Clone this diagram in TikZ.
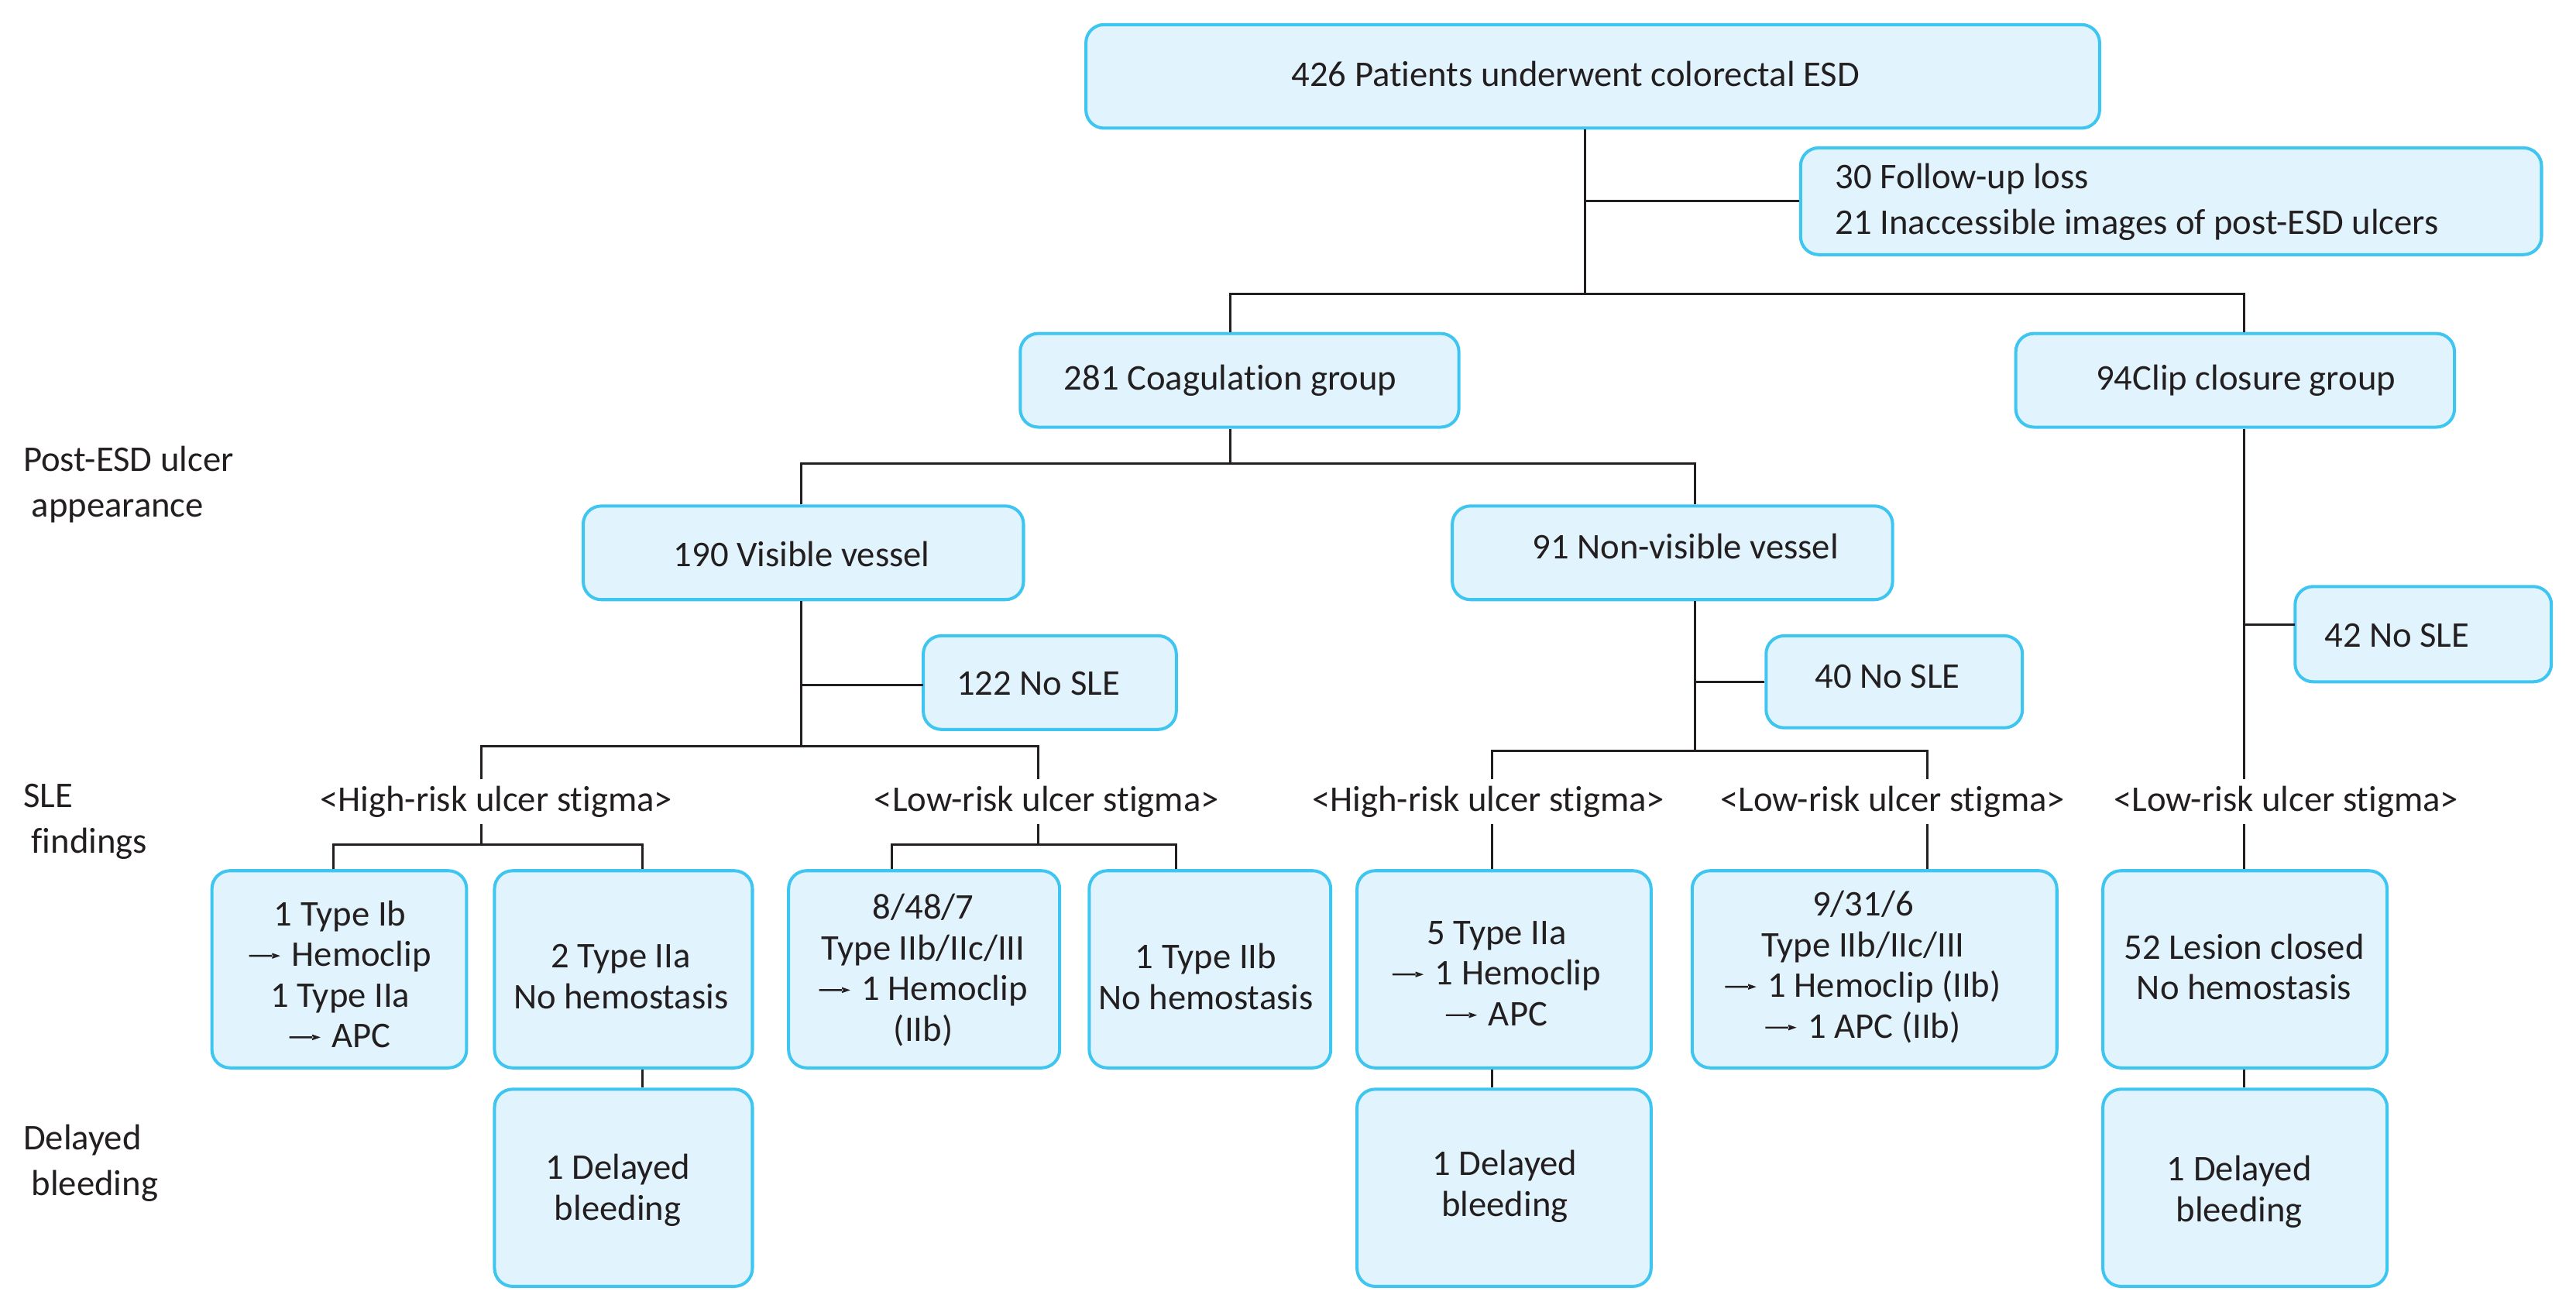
\documentclass[tikz,border=0pt]{standalone}
\usepackage{fontspec}
\setmainfont{Carlito}[Ligatures={NoCommon,TeX}]
\definecolor{boxfill}{HTML}{E1F3FC}
\definecolor{boxline}{HTML}{3FC6F0}
\definecolor{ink}{HTML}{231F20}
\newcommand\rarr{\tikz[x=1pt,y=1pt,baseline=0pt]{\fill[ink] (0,5.8) rectangle (14.5,6.9) (14,4.6) -- (19,6.35) -- (14,8.1) -- cycle;}\hspace{7pt}}
\tikzset{
  box/.style={draw=boxline, fill=boxfill, line width=1.9pt, rounded corners=11pt, inner sep=0pt},
  txt/.style={align=center, inner sep=0pt, text=ink, font=\fontsize{22}{24.8}\selectfont},
  sidetxt/.style={align=left, inner sep=0pt, text=ink, font=\fontsize{22}{27.8}\selectfont},
  lab/.style={align=left, inner sep=0pt, text=ink, font=\fontsize{22}{28}\selectfont, anchor=west},
  stig/.style={inner sep=0pt, minimum height=27pt, text=ink, font=\fontsize{22}{24.8}\selectfont},
  conn/.style={draw=ink, line width=1.4pt}
}
\begin{document}
\begin{tikzpicture}[x=1pt, y=-1pt]
\useasboundingbox (0,0) rectangle (1568,798.6);

% ---------- boxes ----------
\node[box, minimum width=617pt, minimum height=63pt] (top) at (969.5,46.5) {};
\node[box, minimum width=451pt, minimum height=65pt] (side) at (1321.5,122.5) {};
\node[box, minimum width=267pt, minimum height=57pt] (coag) at (754.5,231.5) {};
\node[box, minimum width=267pt, minimum height=57pt] (clip) at (1360.5,231.5) {};
\node[box, minimum width=268pt, minimum height=57pt] (vis) at (489,336.5) {};
\node[box, minimum width=268pt, minimum height=57pt] (nonvis) at (1018,336.5) {};
\node[box, minimum width=154pt, minimum height=57pt] (n122) at (639,415.5) {};
\node[box, minimum width=156pt, minimum height=56pt] (n40) at (1153,415) {};
\node[box, minimum width=156pt, minimum height=58pt] (n42) at (1475,386) {};
\node[box, minimum width=155pt, minimum height=120pt] (b1) at (206.5,590) {};
\node[box, minimum width=157pt, minimum height=120pt] (b2) at (379.5,590) {};
\node[box, minimum width=165pt, minimum height=120pt] (b3) at (562.5,590) {};
\node[box, minimum width=147pt, minimum height=120pt] (b4) at (736.5,590) {};
\node[box, minimum width=179pt, minimum height=120pt] (b5) at (915.5,590) {};
\node[box, minimum width=222pt, minimum height=120pt] (b6) at (1141,590) {};
\node[box, minimum width=173pt, minimum height=120pt] (b7) at (1366.5,590) {};
\node[box, minimum width=157pt, minimum height=120pt] (d1) at (379.5,723) {};
\node[box, minimum width=179pt, minimum height=120pt] (d2) at (915.5,723) {};
\node[box, minimum width=173pt, minimum height=120pt] (d3) at (1366.5,723) {};

% ---------- box texts ----------
\node[txt] (top-t) at (959,45) {426 Patients underwent colorectal ESD};
\node[sidetxt, anchor=west] (side-t) at (1117,123) {30 Follow-up loss\\21 Inaccessible images of post-ESD ulcers};
\node[txt] (coag-t) at (749,231.5) {281 Coagulation group};
\node[txt] (clip-t) at (1367,231.5) {94Clip closure group};
\node[txt] (vis-t) at (488,337.5) {190 Visible vessel};
\node[txt] (nonvis-t) at (1026,332.5) {91 Non-visible vessel};
\node[txt] (n122-t) at (632,416) {122 No SLE};
\node[txt] (n40-t) at (1149,412) {40 No SLE};
\node[txt] (n42-t) at (1459,387) {42 No SLE};
\node[txt] (b1-t) at (207,593) {1 Type Ib\\\rarr Hemoclip\\1 Type IIa\\\rarr APC};
\node[txt] (b2-t) at (378,594.5) {2 Type IIa\\No hemostasis};
\node[txt] (b3-t) at (562,590.5) {8/48/7\\Type IIb/IIc/III\\\rarr 1 Hemoclip\\(IIb)};
\node[txt] (b4-t) at (734,594.5) {1 Type IIb\\No hemostasis};
\node[txt] (b5-t) at (911,592.5) {5 Type IIa\\\rarr 1 Hemoclip\\\rarr APC};
\node[txt] (b6-t) at (1134,588.5) {9/31/6\\Type IIb/IIc/III\\\rarr 1 Hemoclip (IIb)\\\rarr 1 APC (IIb)};
\node[txt] (b7-t) at (1366,588.5) {52 Lesion closed\\No hemostasis};
\node[txt] (d1-t) at (376,724.5) {1 Delayed\\bleeding};
\node[txt] (d2-t) at (916,722) {1 Delayed\\bleeding};
\node[txt] (d3-t) at (1363,725.5) {1 Delayed\\bleeding};

% ---------- side labels ----------
\node[lab] (lab1) at (14,295) {Post-ESD ulcer\\\hspace*{5pt}appearance};
\node[lab] (lab2) at (14,500) {SLE\\\hspace*{5pt}findings};
\node[lab] (lab3) at (14,708) {Delayed\\\hspace*{5pt}bleeding};

% ---------- stigma labels ----------
\node[stig] (HR1) at (302,488) {<High-risk ulcer stigma>};
\node[stig] (LR1) at (637,488) {<Low-risk ulcer stigma>};
\node[stig] (HR2) at (906,488) {<High-risk ulcer stigma>};
\node[stig] (LR2) at (1152,488) {<Low-risk ulcer stigma>};
\node[stig] (LR3) at (1391.5,488) {<Low-risk ulcer stigma>};

% ---------- junction coordinates ----------
\coordinate (jA) at (965,179);
\coordinate (xL1) at (749,179);
\coordinate (xR1) at (1366,179);
\coordinate (jB) at (749,282);
\coordinate (xvis) at (487.5,282);
\coordinate (xnon) at (1031.5,282);
\coordinate (jC) at (487.5,454);
\coordinate (hr1) at (293,454);
\coordinate (lr1) at (632,454);
\coordinate (k1) at (203,514);
\coordinate (k2) at (391,514);
\coordinate (k3) at (543,514);
\coordinate (k4) at (716,514);
\coordinate (jD) at (1031.5,457);
\coordinate (hr2) at (908,457);
\coordinate (lr2) at (1173,457);
\coordinate (e42) at (1397,380);
\coordinate (e122) at (562,417);

% ---------- connectors ----------
\draw[conn] (top.south -| jA) -- (jA);
\draw[conn] (jA |- side.west) -- (side.west);
\draw[conn] (coag.north -| xL1) -- (xL1) -- (xR1) -- (clip.north -| xR1);

\draw[conn] (coag.south -| jB) -- (jB);
\draw[conn] (vis.north -| xvis) -- (xvis) -- (xnon) -- (nonvis.north -| xnon);

\draw[conn] (vis.south -| jC) -- (jC);
\draw[conn] (jC |- e122) -- (e122);
\draw[conn] (hr1 |- HR1.north) -- (hr1) -- (lr1) -- (lr1 |- LR1.north);
\draw[conn] (hr1 |- HR1.south) -- (hr1 |- k1);
\draw[conn] (lr1 |- LR1.south) -- (lr1 |- k3);
\draw[conn] (b1.north -| k1) -- (k1) -- (k2) -- (b2.north -| k2);
\draw[conn] (b3.north -| k3) -- (k3) -- (k4) -- (b4.north -| k4);
\draw[conn] (b2.south -| k2) -- (d1.north -| k2);

\draw[conn] (nonvis.south -| jD) -- (jD);
\draw[conn] (jD |- n40.west) -- (n40.west);
\draw[conn] (hr2 |- HR2.north) -- (hr2) -- (lr2) -- (lr2 |- LR2.north);
\draw[conn] (hr2 |- HR2.south) -- (hr2 |- b5.north);
\draw[conn] (lr2 |- LR2.south) -- (lr2 |- b6.north);
\draw[conn] (hr2 |- b5.south) -- (hr2 |- d2.north);

\draw[conn] (clip.south -| xR1) -- (xR1 |- LR3.north);
\draw[conn] (xR1 |- e42) -- (e42);
\draw[conn] (xR1 |- LR3.south) -- (xR1 |- b7.north);
\draw[conn] (xR1 |- b7.south) -- (xR1 |- d3.north);
\end{tikzpicture}
\end{document}
